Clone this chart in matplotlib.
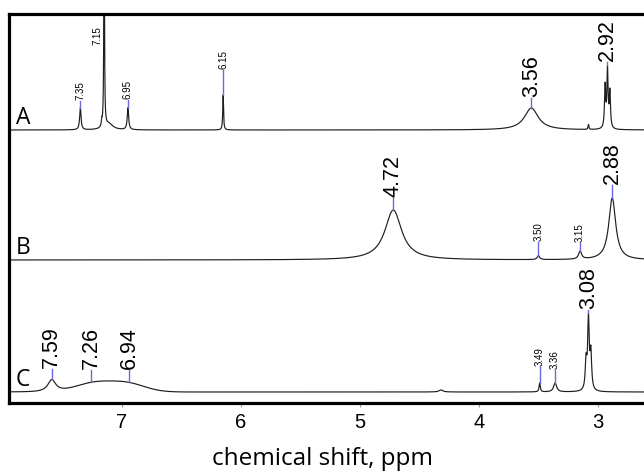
import numpy as np
import matplotlib
matplotlib.use("Agg")
import matplotlib.pyplot as plt

# ---------------- data ----------------
# Peak lists: position (ppm), height (a.u.), half width (ppm)
A_pos = [7.35, 7.17, 7.15, 7.11, 6.95, 6.15, 3.56, 3.08, 2.94, 2.92, 2.90]
A_hgt = [22, 6, 260, 6, 22, 35, 22, 5, 42, 58, 36]
A_wid = [0.007, 0.004, 0.003, 0.04, 0.007, 0.004, 0.07, 0.004, 0.006, 0.006, 0.006]

B_pos = [4.72, 3.50, 3.15, 2.88]
B_hgt = [50, 4, 8, 62]
B_wid = [0.085, 0.012, 0.015, 0.035]

C_pos = [7.59, 4.32, 3.49, 3.36, 3.10, 3.08, 3.06]
C_hgt = [12, 2, 9, 9, 28, 70, 36]
C_wid = [0.04, 0.02, 0.006, 0.015, 0.008, 0.008, 0.008]
# broad aromatic hump in C (gaussian components)
C_hump_pos = [7.24, 6.96]
C_hump_hgt = [8.5, 8.5]
C_hump_sig = [0.15, 0.15]

trace_names = ["A", "B", "C"]
trace_offsets = [262, 132, 0]

# peak annotations: (text, ppm, big?)
A_labels = [("7.35", 7.35, False), ("6.95", 6.95, False), ("6.15", 6.15, False),
            ("3.56", 3.56, True), ("2.92", 2.92, True)]
B_labels = [("4.72", 4.72, True), ("3.50", 3.50, False), ("3.15", 3.15, False),
            ("2.88", 2.88, True)]
C_labels = [("7.59", 7.59, True), ("7.26", 7.26, True), ("6.94", 6.94, True),
            ("3.49", 3.49, False), ("3.36", 3.36, False), ("3.08", 3.08, True)]
A_gaps = [7, 8, 25, 10, 3]
B_gaps = [12, 14, 8, 13]
C_gaps = [10, 12, 12, 16, 13, 3]

x_ticks = [7, 6, 5, 4, 3]
x_label = "chemical shift, ppm"

# ---------------- build spectra ----------------
ppm = np.linspace(8.0, 2.3, 40000)


def lorentz_sum(pos, hgt, wid):
    y = np.zeros_like(ppm)
    for p, h, w in zip(pos, hgt, wid):
        y += h / (1.0 + ((ppm - p) / w) ** 2)
    return y


spec_A = lorentz_sum(A_pos, A_hgt, A_wid)
spec_B = lorentz_sum(B_pos, B_hgt, B_wid)
spec_C = lorentz_sum(C_pos, C_hgt, C_wid)
for p, h, s in zip(C_hump_pos, C_hump_hgt, C_hump_sig):
    spec_C += h * np.exp(-0.5 * ((ppm - p) / s) ** 2)

spectra = [spec_A, spec_B, spec_C]
labels = [A_labels, B_labels, C_labels]
gaps = [A_gaps, B_gaps, C_gaps]

# ---------------- figure ----------------
W, H = 644, 473
fig = plt.figure(figsize=(W / 100, H / 100), dpi=100)
ax = fig.add_axes([9 / W, 70 / H, 665 / W, 389 / H])

ax.set_xlim(7.9496, 2.361)
ax.set_ylim(-11, 378)

line_col = "#1e1e1e"
tick_col = "#6a6ae0"
num_font = ["Liberation Sans", "DejaVu Sans"]
let_font = ["Open Sans", "DejaVu Sans"]

for name, off, spec, labs, gp in zip(trace_names, trace_offsets, spectra, labels, gaps):
    ax.plot(ppm, spec + off, color=line_col, lw=0.85)
    ax.text(7.89, off + 6, name, fontsize=16.5, family=let_font,
            ha="left", va="baseline", color="black")
    for (txt, p, big), g in zip(labs, gp):
        ytop = np.interp(p, ppm[::-1], spec[::-1]) + off
        ax.plot([p, p], [ytop, ytop + g], color=tick_col, lw=1.0)
        ax.text(p, ytop + g + 1, txt, rotation=90, ha="center", va="bottom",
                fontsize=15.5 if big else 7, family=num_font, color="black")

# label of the clipped 7.15 peak (placed beside it)
ax.text(7.21, 347, "7.15", rotation=90, ha="center", va="bottom",
        fontsize=7, family=num_font, color="black")

# axes styling
for s in ax.spines.values():
    s.set_linewidth(2.3)
    s.set_color("black")
ax.set_yticks([])
ax.set_xticks(x_ticks)
ax.set_xticklabels([str(t) for t in x_ticks], family=num_font, fontsize=14.5)
ax.tick_params(axis="x", direction="out", length=3, width=0.8, color="#999999",
               pad=4, top=False)
ax.set_xlabel(x_label, fontsize=17.5, family=let_font)
ax.xaxis.set_label_coords(0.472, -0.159)
ax.xaxis.label.set_va("baseline")

fig.savefig("out.png", dpi=100)
